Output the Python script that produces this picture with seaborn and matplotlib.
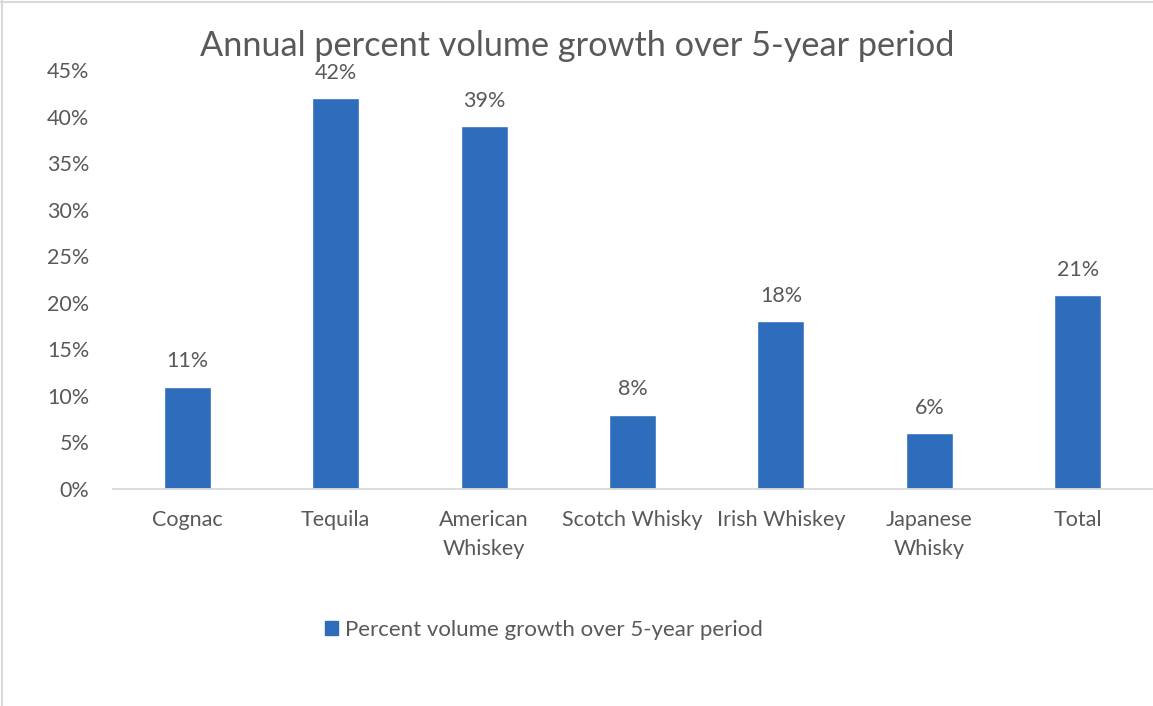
import matplotlib
matplotlib.use("Agg")
import matplotlib.pyplot as plt
import seaborn as sns
import numpy as np
from matplotlib.patches import Patch
from matplotlib.lines import Line2D

categories = ["Cognac", "Tequila", "American\nWhiskey", "Scotch Whisky",
              "Irish Whiskey", "Japanese\nWhisky", "Total"]
values = [0.11, 0.42, 0.39, 0.08, 0.18, 0.06, 0.208]
yticks = [0.0, 0.05, 0.10, 0.15, 0.20, 0.25, 0.30, 0.35, 0.40, 0.45]
title = "Annual percent volume growth over 5-year period"
series_name = "Percent volume growth over 5-year period"

BAR = "#2E6DBC"
TXT = "#595959"
GRID = "#D9D9D9"
FS = 15.5

sns.set_theme(style="white")
plt.rcParams["font.family"] = ["Lato", "DejaVu Sans"]

fig = plt.figure(figsize=(11.53, 7.06), dpi=100)
ax = fig.add_axes([113/1153, 1 - 489/706, 1 - 113/1153 - 1/1153, (489 - 70)/706])

sns.barplot(x=categories, y=values, color=BAR, width=0.317, ax=ax, saturation=1)

ax.set_ylim(0, 0.45)
ax.set_yticks(yticks)
ax.set_yticklabels([f"{int(round(t*100))}%" for t in yticks], fontsize=FS, color=TXT)
ax.set_xticks(range(len(categories)))
ax.set_xticklabels(categories, fontsize=FS, color=TXT, linespacing=1.55)
ax.tick_params(axis="y", length=0, pad=17)
ax.tick_params(axis="x", length=0, pad=15)
ax.set_xlabel("")
ax.set_ylabel("")
for s in ["top", "right", "left"]:
    ax.spines[s].set_visible(False)
ax.spines["bottom"].set_color(GRID)
ax.spines["bottom"].set_linewidth(1.3)

for i, v in enumerate(values):
    ax.annotate(f"{int(round(v*100))}%", (i, v), xytext=(0, 11), textcoords="offset points",
                ha="center", va="bottom", fontsize=FS, color=TXT)

fig.text(577/1153, 1 - 46/706, title, ha="center", va="center", fontsize=24.7, color=TXT)

handle = Patch(facecolor=BAR, edgecolor=BAR)
fig.legend([handle], [series_name], loc="center", bbox_to_anchor=(544/1153, 1 - 630/706),
           frameon=False, fontsize=16, labelcolor=TXT, handlelength=0.6, handleheight=0.6,
           handletextpad=0.3)

# chart frame (top and left edges)
fig.add_artist(Line2D([0, 1], [1 - 1.5/706, 1 - 1.5/706], transform=fig.transFigure, color=GRID, lw=1.5))
fig.add_artist(Line2D([2/1153, 2/1153], [0, 1], transform=fig.transFigure, color=GRID, lw=1.5))

fig.savefig("out.png", dpi=100, facecolor="white")
